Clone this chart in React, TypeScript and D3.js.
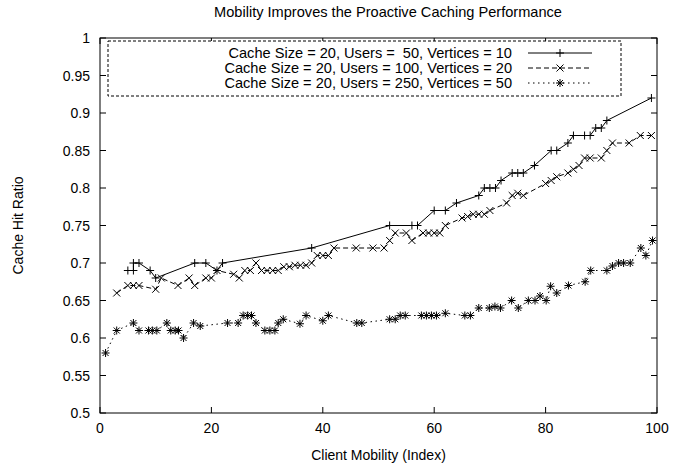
import React from "react";
import * as d3 from "d3";

// chart values
const s1X = [5, 6, 6, 7, 9, 10, 17, 19, 21, 22, 38, 52, 56, 57, 60, 62, 64, 68, 69, 70, 71, 72, 74, 75, 76, 78, 81, 82, 84, 85, 87, 88, 89, 90, 91, 99];
const s1Y = [0.69, 0.69, 0.7, 0.7, 0.69, 0.68, 0.7, 0.7, 0.69, 0.7, 0.72, 0.75, 0.75, 0.75, 0.77, 0.77, 0.78, 0.79, 0.8, 0.8, 0.8, 0.81, 0.82, 0.82, 0.82, 0.83, 0.85, 0.85, 0.86, 0.87, 0.87, 0.87, 0.88, 0.88, 0.89, 0.92];

const s2X = [3, 5, 6, 7, 10, 11, 14, 16, 17, 19, 20, 21, 24, 25, 26, 27, 28, 29, 30, 31, 32, 33, 34, 35, 36, 37, 38, 39, 40, 41, 42, 46, 49, 51, 52, 53, 55, 56, 58, 59, 60, 61, 62, 65, 66, 67, 68, 69, 70, 73, 74, 75, 76, 80, 81, 82, 84, 85, 86, 87, 88, 90, 91, 92, 95, 97, 99];
const s2Y = [0.66, 0.67, 0.67, 0.67, 0.665, 0.68, 0.67, 0.68, 0.67, 0.68, 0.68, 0.69, 0.685, 0.68, 0.69, 0.69, 0.7, 0.69, 0.69, 0.69, 0.69, 0.695, 0.695, 0.697, 0.697, 0.697, 0.7, 0.71, 0.71, 0.71, 0.72, 0.72, 0.72, 0.72, 0.73, 0.74, 0.74, 0.73, 0.74, 0.74, 0.74, 0.74, 0.75, 0.76, 0.762, 0.765, 0.765, 0.765, 0.77, 0.78, 0.79, 0.793, 0.79, 0.806, 0.81, 0.815, 0.82, 0.825, 0.83, 0.84, 0.84, 0.84, 0.85, 0.86, 0.86, 0.87, 0.87];

const s3X = [1, 3, 6, 7, 8.7, 9.4, 10.2, 12, 12.7, 13.5, 14.1, 15, 16.8, 18, 22.9, 24.8, 25.7, 26.5, 27.2, 28, 29.6, 30.5, 31.4, 32, 32.9, 35.9, 37, 40, 41, 46.1, 47, 52, 53, 53.9, 54.8, 57.7, 58.6, 59.5, 60.4, 62, 65.5, 66.5, 68, 69.9, 70.9, 71.9, 73.9, 75.1, 76.9, 78.1, 79, 80.1, 80.9, 82, 84.1, 87.1, 88.1, 91, 92, 93.1, 94, 95.2, 97.1, 98, 99.2];
const s3Y = [0.58, 0.61, 0.62, 0.61, 0.61, 0.61, 0.61, 0.62, 0.61, 0.61, 0.61, 0.6, 0.62, 0.616, 0.62, 0.62, 0.63, 0.63, 0.63, 0.62, 0.61, 0.61, 0.61, 0.62, 0.625, 0.619, 0.63, 0.623, 0.63, 0.62, 0.62, 0.625, 0.625, 0.63, 0.63, 0.63, 0.63, 0.63, 0.63, 0.633, 0.63, 0.63, 0.64, 0.64, 0.642, 0.64, 0.65, 0.64, 0.65, 0.65, 0.656, 0.65, 0.669, 0.66, 0.67, 0.675, 0.69, 0.69, 0.696, 0.7, 0.7, 0.7, 0.72, 0.71, 0.73];

const seriesNames = [
  "Cache Size = 20, Users =  50, Vertices = 10",
  "Cache Size = 20, Users = 100, Vertices = 20",
  "Cache Size = 20, Users = 250, Vertices = 50",
];

const xTicks = [0, 20, 40, 60, 80, 100];
const yTicks = [0.5, 0.55, 0.6, 0.65, 0.7, 0.75, 0.8, 0.85, 0.9, 0.95, 1];
const yTickLabels = ["0.5", "0.55", "0.6", "0.65", "0.7", "0.75", "0.8", "0.85", "0.9", "0.95", "1"];

const W = 695;
const H = 468;
const left = 100, right = 657, top = 38, bottom = 413;
const font = "'Liberation Sans', Arial, Helvetica, sans-serif";

const markerPaths = [
  "M-4,0H4M0,-4V4",
  "M-3.5,-3.5L3.5,3.5M-3.5,3.5L3.5,-3.5",
  "M-4,0H4M0,-4V4M-3,-3L3,3M-3,3L3,-3",
];
const dashes = [undefined, "5,3", "1.5,3.5"];

export default function App() {
  const xScale = d3.scaleLinear().domain([0, 100]).range([left, right]);
  const yScale = d3.scaleLinear().domain([0.5, 1]).range([bottom, top]);

  const allSeries = [
    s1X.map((x, i) => [x, s1Y[i]]),
    s2X.map((x, i) => [x, s2Y[i]]),
    s3X.map((x, i) => [x, s3Y[i]]),
  ];

  const line = d3
    .line<number[]>()
    .x((d) => xScale(d[0]))
    .y((d) => yScale(d[1]));

  const legendRows = [53, 68, 83];

  return (
    <svg width={W} height={H} style={{ position: "absolute", left: 0, top: 0, background: "#fff" }} fontFamily={font}>
      <rect width={W} height={H} fill="#fff" />
      <text x={388} y={17} fontSize={14.6} textAnchor="middle">
        Mobility Improves the Proactive Caching Performance
      </text>

      {/* ticks */}
      {yTicks.map((t, i) => (
        <g key={"y" + i}>
          <line x1={left} x2={left + 6} y1={yScale(t)} y2={yScale(t)} stroke="#000" />
          <line x1={right} x2={right - 6} y1={yScale(t)} y2={yScale(t)} stroke="#000" />
          <text x={left - 10} y={yScale(t) + 5} fontSize={14} textAnchor="end">
            {yTickLabels[i]}
          </text>
        </g>
      ))}
      {xTicks.map((t, i) => (
        <g key={"x" + i}>
          <line x1={xScale(t)} x2={xScale(t)} y1={bottom} y2={bottom - 6} stroke="#000" />
          <line x1={xScale(t)} x2={xScale(t)} y1={top} y2={top + 6} stroke="#000" />
          <text x={xScale(t)} y={bottom + 20} fontSize={14} textAnchor="middle">
            {t}
          </text>
        </g>
      ))}

      <text x={(left + right) / 2} y={460} fontSize={14} textAnchor="middle">
        Client Mobility (Index)
      </text>
      <text transform={`translate(23,${(top + bottom) / 2}) rotate(-90)`} fontSize={14} textAnchor="middle">
        Cache Hit Ratio
      </text>

      {/* series */}
      {allSeries.map((pts, si) => (
        <g key={"s" + si}>
          <path d={line(pts) || ""} fill="none" stroke="#000" strokeWidth={1} strokeDasharray={dashes[si]} />
          {pts.map((p, j) => (
            <path key={j} d={markerPaths[si]} transform={`translate(${xScale(p[0])},${yScale(p[1])})`} stroke="#000" fill="none" />
          ))}
        </g>
      ))}

      {/* legend */}
      <rect x={108} y={41} width={513} height={55} fill="#fff" stroke="#000" strokeDasharray="3,2" />
      {seriesNames.map((name, i) => (
        <g key={"l" + i}>
          <text x={512} y={legendRows[i] + 5} fontSize={14.6} textAnchor="end" style={{ whiteSpace: "pre" }}>
            {name}
          </text>
          <line x1={528} x2={592} y1={legendRows[i]} y2={legendRows[i]} stroke="#000" strokeDasharray={dashes[i]} />
          <path d={markerPaths[i]} transform={`translate(560,${legendRows[i]})`} stroke="#000" fill="none" />
        </g>
      ))}

      <rect x={left} y={top} width={right - left} height={bottom - top} fill="none" stroke="#000" />
    </svg>
  );
}
